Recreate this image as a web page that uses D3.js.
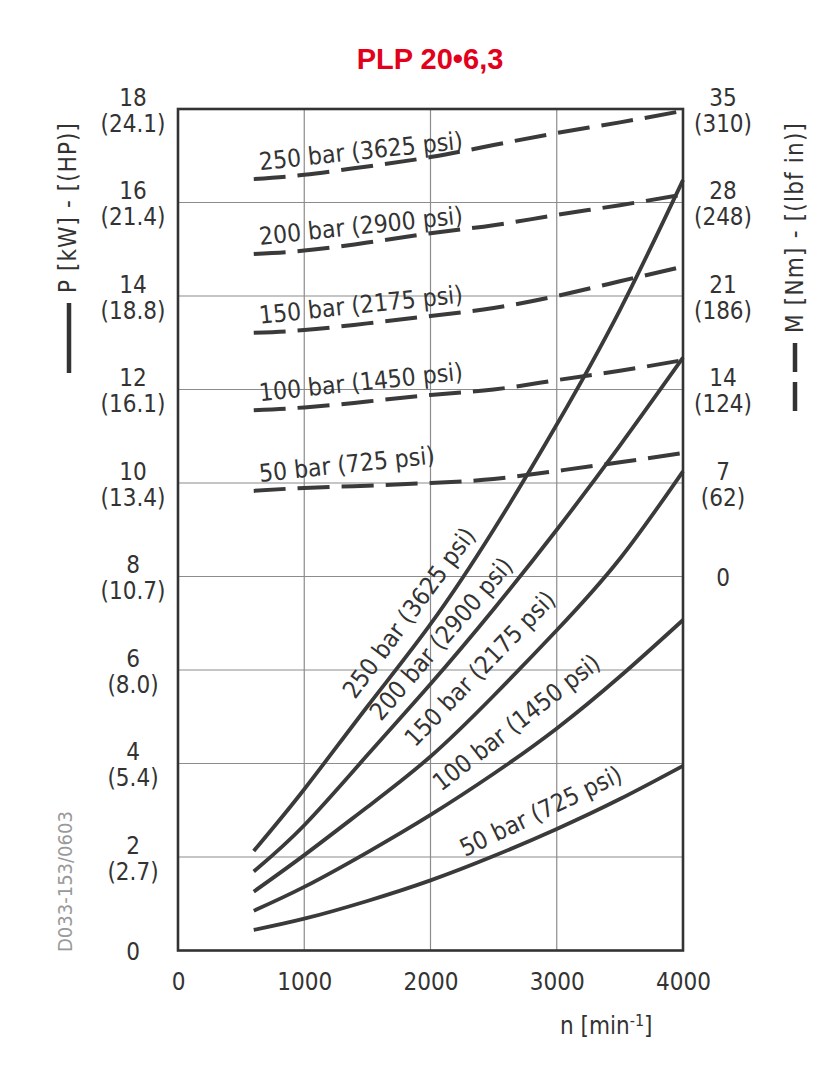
<!DOCTYPE html>
<html>
<head>
    <title>PLP 20-6,3</title>
    <script src="https://d3js.org/d3.v7.min.js"></script>
    <style>
        body { margin: 0; background: #fff; }
        text { font-family: "DejaVu Sans Condensed", "DejaVu Sans", sans-serif; fill: #333; }
        .grid line { stroke: #8c8c8c; stroke-width: 1.2px; }
        .curve { fill: none; stroke: #3a3a3a; stroke-width: 3.8px; }
        .dashed { stroke-dasharray: 32, 12; stroke-width: 4px; }
        .tick text { font-size: 24px; }
    </style>
</head>
<body>
    <div id="chart"></div>

    <script>
        // speed [min-1] where curves are read
        const speeds = [600, 1000, 1500, 2000, 2500, 3000, 3500, 4000];
        const pressureBar = [50, 100, 150, 200, 250];
        const pressurePsi = [725, 1450, 2175, 2900, 3625];

        // power P [kW] (solid curves)
        const power50 = [0.44, 0.68, 1.06, 1.5, 2.02, 2.6, 3.24, 3.95];
        const power100 = [0.85, 1.36, 2.1, 2.9, 3.78, 4.75, 5.86, 7.07];
        const power150 = [1.26, 2.04, 3.07, 4.15, 5.45, 6.85, 8.38, 10.25];
        const power200 = [1.69, 2.68, 4.18, 5.7, 7.3, 9.0, 10.8, 12.68];
        const power250 = [2.13, 3.45, 5.22, 6.98, 9.0, 11.25, 13.7, 16.48];

        // torque M [Nm] (dashed curves)
        const torque50 = [6.41, 6.63, 6.8, 7.0, 7.3, 7.9, 8.55, 9.25];
        const torque100 = [12.45, 12.66, 13.1, 13.59, 14.0, 14.7, 15.4, 16.2];
        const torque150 = [18.24, 18.45, 18.95, 19.5, 20.1, 21.0, 22.1, 23.2];
        const torque200 = [24.15, 24.4, 25.0, 25.7, 26.3, 27.07, 27.8, 28.6];
        const torque250 = [29.75, 30.07, 30.7, 31.4, 32.3, 33.2, 34.0, 34.86];

        const kwTicks = [0, 2, 4, 6, 8, 10, 12, 14, 16, 18];
        const hpLabels = ["", "(2.7)", "(5.4)", "(8.0)", "(10.7)", "(13.4)", "(16.1)", "(18.8)", "(21.4)", "(24.1)"];
        const nmTicks = [0, 7, 14, 21, 28, 35];
        const lbfLabels = ["", "(62)", "(124)", "(186)", "(248)", "(310)"];
        const rpmTicks = [0, 1000, 2000, 3000, 4000];

        const powerSeries = [power50, power100, power150, power200, power250];
        const torqueSeries = [torque50, torque100, torque150, torque200, torque250];

        const W = 836, H = 1080;
        const x = d3.scaleLinear().domain([0, 4000]).range([178, 683]);
        const y = d3.scaleLinear().domain([0, 18]).range([950.5, 109]);
        const yT = d3.scaleLinear().domain([0, 35]).range([y(8), y(18)]);

        const svg = d3.select("#chart").append("svg")
            .attr("width", W)
            .attr("height", H);

        // grid
        const grid = svg.append("g").attr("class", "grid");
        grid.selectAll(".h").data(kwTicks.slice(1, -1)).enter().append("line")
            .attr("x1", x(0)).attr("x2", x(4000))
            .attr("y1", d => y(d)).attr("y2", d => y(d));
        grid.selectAll(".v").data(rpmTicks.slice(1, -1)).enter().append("line")
            .attr("y1", y(0)).attr("y2", y(18))
            .attr("x1", d => x(d)).attr("x2", d => x(d));

        // curves
        const line = d3.line()
            .x((d, i) => x(speeds[i]))
            .curve(d3.curveNatural);

        svg.selectAll(".pw").data(powerSeries).enter().append("path")
            .attr("class", "curve")
            .attr("d", d => line.y(v => y(v))(d));

        svg.selectAll(".tq").data(torqueSeries).enter().append("path")
            .attr("class", "curve dashed")
            .attr("d", d => line.y(v => yT(v))(d));

        // frame
        svg.append("rect")
            .attr("x", x(0)).attr("y", y(18))
            .attr("width", x(4000) - x(0)).attr("height", y(0) - y(18))
            .style("fill", "none").style("stroke", "#333").style("stroke-width", 2.6);

        // left axis (kW / HP)
        const left = svg.append("g")
            .attr("transform", `translate(${x(0)},0)`)
            .call(d3.axisLeft(y).tickValues(kwTicks).tickSize(0).tickFormat(""));
        left.select(".domain").remove();
        left.selectAll(".tick text").each(function(d, i) {
            const t = d3.select(this).attr("x", null).attr("dy", null).attr("y", null)
                .style("text-anchor", "middle");
            if (d === 0) {
                t.append("tspan").attr("x", -45).attr("y", 8.5).text(d);
            } else {
                t.append("tspan").attr("x", -45).attr("y", -4).text(d);
                t.append("tspan").attr("x", -45).attr("y", 22).text(hpLabels[i]);
            }
        });

        // right axis (Nm / lbf in)
        const right = svg.append("g")
            .attr("transform", `translate(${x(4000)},0)`)
            .call(d3.axisRight(yT).tickValues(nmTicks).tickSize(0).tickFormat(""));
        right.select(".domain").remove();
        right.selectAll(".tick text").each(function(d, i) {
            const t = d3.select(this).attr("x", null).attr("dy", null).attr("y", null)
                .style("text-anchor", "middle");
            if (d === 0) {
                t.append("tspan").attr("x", 40).attr("y", 8.5).text(d);
            } else {
                t.append("tspan").attr("x", 40).attr("y", -4).text(d);
                t.append("tspan").attr("x", 40).attr("y", 22).text(lbfLabels[i]);
            }
        });

        // bottom axis
        const bottom = svg.append("g")
            .attr("transform", `translate(0,${y(0)})`)
            .call(d3.axisBottom(x).tickValues(rpmTicks).tickSize(0).tickFormat(d3.format("d")));
        bottom.select(".domain").remove();
        bottom.selectAll(".tick text").attr("y", 39).attr("dy", null);

        // labels on dashed (torque) curves
        svg.selectAll(".tqlab").data(pressureBar).enter().append("text")
            .attr("transform", (d, i) => `translate(${x(650)},${yT(torqueSeries[i][0]) - 9}) rotate(-6)`)
            .style("font-size", "24.5px")
            .text((d, i) => `${d} bar (${pressurePsi[i]} psi)`);

        // labels along power curves: [speed, kW, angle]
        const powerLabelAt = [[2273, 2.0, -25.7], [2083, 3.39, -38], [1877, 4.33, -46], [1608, 4.89, -49.4], [1402, 5.36, -53.5]];
        svg.selectAll(".pwlab").data(pressureBar).enter().append("text")
            .attr("transform", (d, i) => {
                const p = powerLabelAt[i];
                return `translate(${x(p[0])},${y(p[1])}) rotate(${p[2]})`;
            })
            .style("font-size", "24.5px")
            .text((d, i) => `${d} bar (${pressurePsi[i]} psi)`);

        // axis titles
        svg.append("text")
            .attr("transform", "translate(76,293) rotate(-90)")
            .attr("textLength", 170)
            .style("font-size", "24px")
            .text("P [kW] - [(HP)]");
        svg.append("line")
            .attr("x1", 69).attr("x2", 69).attr("y1", 303).attr("y2", 373)
            .style("stroke", "#333").style("stroke-width", 4.5);

        svg.append("text")
            .attr("transform", "translate(803,333) rotate(-90)")
            .attr("textLength", 210)
            .style("font-size", "24px")
            .text("M [Nm] - [(lbf in)]");
        svg.append("line")
            .attr("x1", 795).attr("x2", 795).attr("y1", 343).attr("y2", 411)
            .style("stroke", "#333").style("stroke-width", 4.5)
            .style("stroke-dasharray", "29,10");

        const xt = svg.append("text")
            .attr("x", 560).attr("y", 1034)
            .style("font-size", "24px");
        xt.append("tspan").text("n  [min");
        xt.append("tspan").attr("dy", -8).style("font-size", "16px").text("-1");
        xt.append("tspan").attr("dy", 8).text("]");

        // title
        svg.append("text")
            .attr("x", 430).attr("y", 69)
            .style("text-anchor", "middle")
            .style("font-family", "'Liberation Sans', Arial, sans-serif")
            .style("font-weight", "bold")
            .style("font-size", "29px")
            .style("fill", "#e2001a")
            .text("PLP 20•6,3");

        // drawing number
        svg.append("text")
            .attr("transform", "translate(72,952) rotate(-90)")
            .style("font-size", "20px")
            .style("fill", "#999")
            .text("D033-153/0603");
    </script>
</body>
</html>
